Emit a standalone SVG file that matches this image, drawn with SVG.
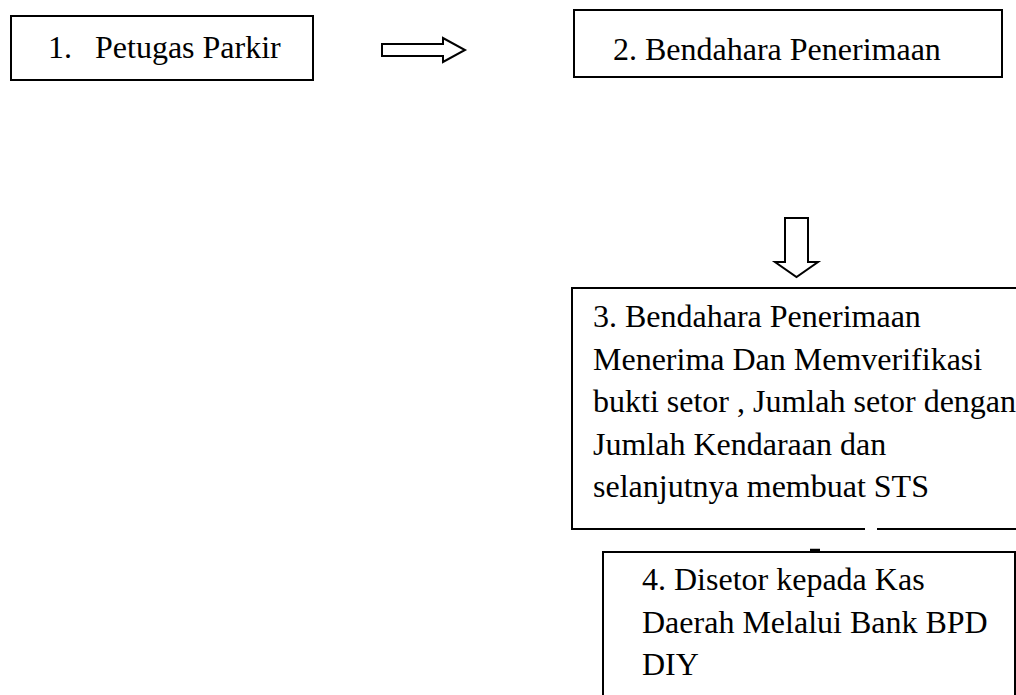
<svg xmlns="http://www.w3.org/2000/svg" width="1016" height="695" viewBox="0 0 1016 695">
<style>
.box{fill:none;stroke:#000;stroke-width:2}
.t{font-family:"Liberation Serif","Times New Roman",serif;font-size:32px;fill:#000}
.arr{fill:#fff;stroke:#000;stroke-width:2;stroke-linejoin:miter}
</style>
<rect width="1016" height="695" fill="#fff"/>
<g id="connectors">
<path class="arr" d="M382,44 H443 V38 L465,50 L443,62 V56 H382 Z"/>
<path class="arr" d="M785,218 H808 V262 H818 L796.5,277 L775,262 H785 Z"/>
<path d="M810,550 H820" stroke="#000" stroke-width="2.5"/>
</g>
<g id="node1">
<rect class="box" x="11" y="16" width="302" height="64"/>
<text class="t" x="48" y="58">1.</text>
<text class="t" x="95" y="58">Petugas Parkir</text>
</g>
<g id="node2">
<rect class="box" x="574" y="10" width="428" height="67"/>
<text class="t" x="613" y="60">2. Bendahara Penerimaan</text>
</g>
<g id="node3">
<path class="box" d="M1017,288 H572 V529 H865 M877,529 H1017" stroke-width="1.5"/>
<text class="t" x="593" y="327">3. Bendahara Penerimaan</text>
<text class="t" x="593" y="370">Menerima Dan Memverifikasi</text>
<text class="t" x="593" y="412">bukti setor , Jumlah setor dengan</text>
<text class="t" x="593" y="455">Jumlah Kendaraan dan</text>
<text class="t" x="593" y="497">selanjutnya membuat STS</text>
</g>
<g id="node4">
<path class="box" d="M603,700 V552 H1015 V700" stroke-width="1.5"/>
<text class="t" x="642" y="590">4. Disetor kepada Kas</text>
<text class="t" x="642" y="633">Daerah Melalui Bank BPD</text>
<text class="t" x="642" y="675">DIY</text>
</g>
</svg>
